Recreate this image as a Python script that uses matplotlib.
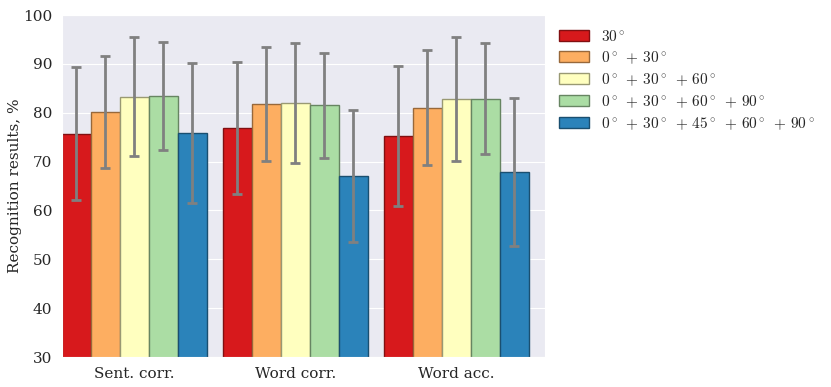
import matplotlib
matplotlib.use('Agg')
import matplotlib.pyplot as plt
import matplotlib.colors as mpc
import seaborn as sns
import numpy as np

# values
groups = ['Sent. corr.', 'Word corr.', 'Word acc.']
labels = [r'$30^\circ$',
          r'$0^\circ\;+\,30^\circ$',
          r'$0^\circ\;+\,30^\circ\;+\,60^\circ$',
          r'$0^\circ\;+\,30^\circ\;+\,60^\circ\;+\,90^\circ$',
          r'$0^\circ\;+\,30^\circ\;+\,45^\circ\;+\,60^\circ\;+\,90^\circ$']
means = [
    [75.7, 76.9, 75.3],
    [80.2, 81.8, 81.0],
    [83.3, 82.0, 82.9],
    [83.4, 81.5, 82.9],
    [75.9, 67.1, 67.9],
]
errors = [
    [13.6, 13.5, 14.3],
    [11.5, 11.7, 11.8],
    [12.2, 12.2, 12.7],
    [11.1, 10.8, 11.4],
    [14.3, 13.5, 15.1],
]
colors = ['#d7191c', '#fdae61', '#ffffbf', '#abdda4', '#2b83ba']

sns.set_style('darkgrid')
plt.rcParams['font.family'] = ['DejaVu Serif']
plt.rcParams['mathtext.fontset'] = 'cm'

fig = plt.figure(figsize=(8.31, 3.87), dpi=100)
ax = fig.add_axes([0.0746, 0.0775, 0.5812, 0.8837])

x = np.arange(len(groups))
width = 0.18
for i in range(len(labels)):
    edge = np.array(mpc.to_rgb(colors[i])) * 0.6
    pos = x - 0.45 + width * (i + 0.5)
    ax.bar(pos, means[i], width, color=colors[i], edgecolor=edge,
           linewidth=1.0, label=labels[i], zorder=2)
    ax.errorbar(pos, means[i], yerr=errors[i], fmt='none', ecolor='gray',
                elinewidth=2, capsize=3.6, capthick=2, zorder=3)

ax.set_xlim(-0.45, 2.55)
ax.set_ylim(30, 100)
ax.set_xticks(x)
ax.set_xticklabels(groups, fontsize=11)
ax.tick_params(axis='y', labelsize=11)
ax.xaxis.grid(False)
ax.set_ylabel('Recognition results, %', fontsize=11, labelpad=1)

ax.legend(loc='upper left', bbox_to_anchor=(1.0, 1.0), frameon=False,
          fontsize=11, handlelength=2.0, labelspacing=0.35)

fig.savefig('out.png', dpi=100)
